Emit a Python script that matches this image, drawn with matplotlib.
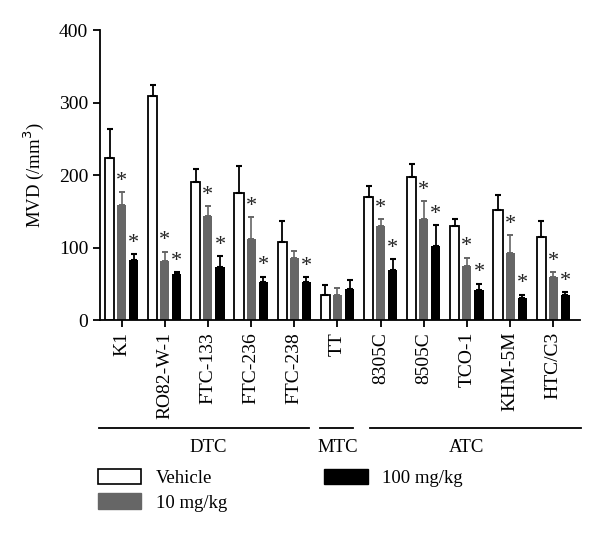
import matplotlib
matplotlib.use('Agg')
import matplotlib.pyplot as plt
import matplotlib.patches as mpatches
import matplotlib.transforms as mtransforms
import numpy as np

plt.rcParams['font.family'] = 'Liberation Serif'
plt.rcParams['font.size'] = 13

# cell lines and groups
cell_lines = ["K1", "RO82-W-1", "FTC-133", "FTC-236", "FTC-238", "TT",
              "8305C", "8505C", "TCO-1", "KHM-5M", "HTC/C3"]
groups = ["DTC", "MTC", "ATC"]
group_span = [(0, 4), (5, 5), (6, 10)]

# MVD means (/mm^3)
vehicle = [223, 309, 191, 175, 108, 35, 170, 197, 130, 152, 115]
dose10 = [158, 82, 144, 112, 86, 34, 130, 140, 75, 92, 59]
dose100 = [83, 64, 73, 52, 53, 43, 69, 102, 42, 30, 35]

# upper error (SD)
vehicle_err = [41, 15, 17, 38, 28, 13, 15, 18, 9, 20, 21]
dose10_err = [18, 12, 13, 30, 9, 10, 9, 24, 11, 25, 7]
dose100_err = [8, 2, 15, 8, 6, 12, 15, 29, 8, 5, 3]

# significance markers
sig10 = [1, 1, 1, 1, 0, 0, 1, 1, 1, 1, 1]
sig100 = [1, 1, 1, 1, 1, 0, 1, 1, 1, 1, 1]

gray = '#666666'

fig = plt.figure(figsize=(6, 5.33), dpi=100)
ax = fig.add_axes([0.1667, 0.3996, 0.80, 0.5441])

x = np.arange(len(cell_lines))
w = 0.21
step = 0.28

ax.bar(x - step, vehicle, w, color='white', edgecolor='black', linewidth=1.3,
       yerr=[np.zeros(len(x)), vehicle_err], error_kw=dict(ecolor='black', elinewidth=1.3, capsize=2.5, capthick=1.5))
ax.bar(x, dose10, w, color=gray, edgecolor=gray, linewidth=0,
       yerr=[np.zeros(len(x)), dose10_err], error_kw=dict(ecolor=gray, elinewidth=1.2, capsize=2.5, capthick=1.4))
ax.bar(x + step, dose100, w, color='black', edgecolor='black', linewidth=0,
       yerr=[np.zeros(len(x)), dose100_err], error_kw=dict(ecolor='black', elinewidth=1.3, capsize=2.5, capthick=1.5))

# asterisks
for i in range(len(x)):
    if sig10[i]:
        ax.annotate('*', (x[i], dose10[i] + dose10_err[i]), xytext=(0, 1),
                    textcoords='offset points', ha='center', va='bottom', fontsize=16, color='#222222')
    if sig100[i]:
        ax.annotate('*', (x[i] + step, dose100[i] + dose100_err[i]), xytext=(0, 1),
                    textcoords='offset points', ha='center', va='bottom', fontsize=16, color='#222222')

ax.set_ylim(0, 400)
ax.set_xlim(-0.5, 10.62)
ax.set_yticks([0, 100, 200, 300, 400])
ax.set_xticks(x)
ax.set_xticklabels(cell_lines, rotation=90)
ax.tick_params(direction='out', length=5, width=1.3, labelsize=14)
ax.set_ylabel('MVD (/mm$^3$)', labelpad=9, fontsize=13.5)

for s in ['top', 'right']:
    ax.spines[s].set_visible(False)
ax.spines['left'].set_linewidth(1.3)
ax.spines['bottom'].set_linewidth(1.3)

# group lines below tick labels
trans = mtransforms.blended_transform_factory(ax.transData, ax.transAxes)
for name, (a, b) in zip(groups, group_span):
    x0 = a - 0.53
    x1 = b + 0.65 if b == 10 else b + 0.35
    if a == 5:
        x0 = a - 0.4
    if a == 6:
        x0 = a - 0.25
    ax.plot([x0, x1], [-0.372, -0.372], color='black', lw=1.3, transform=trans, clip_on=False)
    ax.text((a + b) / 2.0, -0.41, name, transform=trans, ha='center', va='top', fontsize=13.5)

handles = [mpatches.Patch(facecolor='white', edgecolor='black', linewidth=1.2, label='Vehicle'),
           mpatches.Patch(facecolor=gray, edgecolor=gray, label='10 mg/kg'),
           mpatches.Patch(facecolor='black', edgecolor='black', label='100 mg/kg')]
fig.legend(handles=handles, ncol=2, loc='upper left', bbox_to_anchor=(0.15, 0.135),
           bbox_transform=fig.transFigure, frameon=False, handlelength=2.3, handleheight=0.9,
           columnspacing=5.2, labelspacing=0.35, handletextpad=0.8, borderaxespad=0, fontsize=13.5)

fig.savefig('out.png', dpi=100)
